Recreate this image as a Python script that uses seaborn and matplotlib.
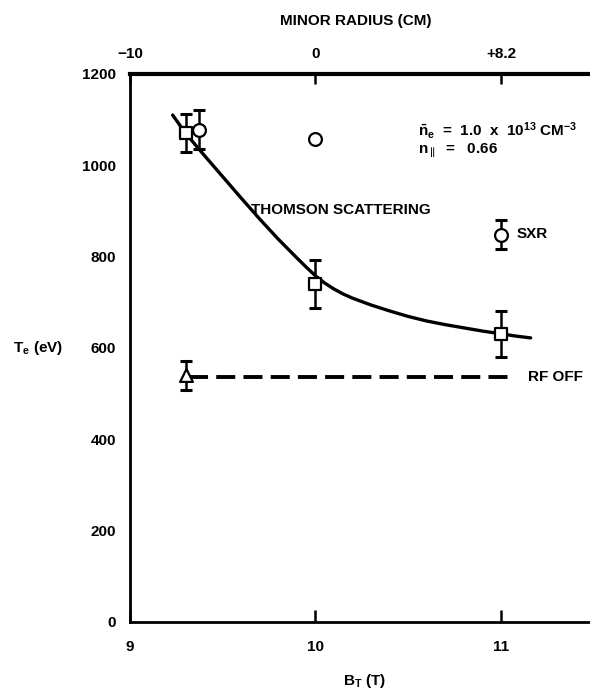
import matplotlib
matplotlib.use("Agg")
import matplotlib.pyplot as plt
import seaborn as sns
import pandas as pd

# Data
ts_bt = [9.30, 10.0, 11.0]
ts_te = [1070, 740, 630]
ts_err = [42, 52, 50]

sxr_bt = [9.37, 11.0]
sxr_te = [1078, 848]
sxr_err = [42, 32]

sxr2_bt = [10.0]
sxr2_te = [1058]

rfoff_bt = [9.30]
rfoff_te = [540]
rfoff_err = [31]

curve_bt = [9.23, 9.30, 9.40, 9.50, 9.60, 9.70, 9.80, 9.90, 9.95, 10.0, 10.05, 10.1, 10.15, 10.2,
            10.3, 10.4, 10.5, 10.6, 10.7, 10.8, 10.9, 11.0, 11.08, 11.16]
curve_te = [1110, 1070, 1022, 975, 928, 882, 838, 797, 777, 758, 742, 729, 718, 709,
            694, 681, 669, 659, 651, 644, 637, 631, 626, 622]

rfline_bt = [9.32, 11.07]
rfline_te = [537, 537]

top_ticks = [9, 10, 11]
top_labels = ["\u221210", "0", "+8.2"]
y_ticks = [0, 200, 400, 600, 800, 1000, 1200]
x_ticks = [9, 10, 11]

sns.set_theme(style="white")
plt.rcParams['font.family'] = ['Liberation Sans', 'DejaVu Sans']
plt.rcParams['font.weight'] = 'bold'
plt.rcParams['text.color'] = 'black'
plt.rcParams['axes.labelcolor'] = 'black'
plt.rcParams['xtick.color'] = 'black'
plt.rcParams['ytick.color'] = 'black'
plt.rcParams['mathtext.fontset'] = 'custom'
plt.rcParams['mathtext.rm'] = 'Liberation Sans:bold'
plt.rcParams['mathtext.bf'] = 'Liberation Sans:bold'
plt.rcParams['mathtext.it'] = 'Liberation Sans:bold'
plt.rcParams['mathtext.sf'] = 'Liberation Sans:bold'
plt.rcParams['mathtext.default'] = 'bf'

FS = 11

fig = plt.figure(figsize=(5.9, 6.93), dpi=100)
ax = fig.add_axes([0.2203, 0.1025, 0.7797, 0.7908])

curve = pd.DataFrame({"bt": curve_bt, "te": curve_te})
sns.lineplot(data=curve, x="bt", y="te", ax=ax, color="black", lw=2.4, sort=False)

rfl = pd.DataFrame({"bt": rfline_bt, "te": rfline_te})
sns.lineplot(data=rfl, x="bt", y="te", ax=ax, color="black", lw=2.8,
             linestyle=(0, (4.9, 2.1)))

ek = dict(fmt="none", ecolor="black", elinewidth=1.8, capsize=4, capthick=2.2, zorder=3)
ax.errorbar(ts_bt, ts_te, yerr=ts_err, **ek)
ax.errorbar(sxr_bt, sxr_te, yerr=sxr_err, **ek)
ax.errorbar(rfoff_bt, rfoff_te, yerr=rfoff_err, **ek)

mk = dict(color="white", edgecolor="black", linewidth=1.6, s=85, zorder=4, legend=False)
sns.scatterplot(x=ts_bt, y=ts_te, marker="s", ax=ax, **mk)
sns.scatterplot(x=sxr_bt + sxr2_bt, y=sxr_te + sxr2_te, marker="o", ax=ax, **mk)
sns.scatterplot(x=rfoff_bt, y=rfoff_te, marker="^", ax=ax, **mk)

ax.set_xlim(9, 11.48)
ax.set_ylim(0, 1200)
ax.set_xticks(x_ticks)
ax.set_xticklabels([str(t) for t in x_ticks])
ax.set_yticks(y_ticks)
ax.set_yticklabels([str(t) for t in y_ticks])
ax.tick_params(axis="y", direction="in", length=10, width=1.8, labelsize=FS, pad=10)
ax.tick_params(axis="x", direction="in", length=9, width=1.8, labelsize=FS, pad=13)

for s in ["left", "bottom"]:
    ax.spines[s].set_color("black")
    ax.spines[s].set_linewidth(2)
ax.spines["top"].set_color("black")
ax.spines["top"].set_linewidth(3)
ax.spines["right"].set_visible(False)

ax.set_xlabel("B$_\\mathbf{T}$ (T)", fontsize=FS, fontweight="bold", va="center")
ax.xaxis.set_label_coords(0.509, -0.108)
ax.set_ylabel("T$_\\mathbf{e}$ (eV)", fontsize=FS, fontweight="bold", rotation=0,
              va="center", ha="center")
ax.yaxis.set_label_coords(-0.2, 0.50)

top = ax.twiny()
top.set_xlim(ax.get_xlim())
top.set_xticks(top_ticks)
top.set_xticklabels(top_labels)
top.tick_params(axis="x", direction="in", length=7, width=1.8, labelsize=FS, pad=9)
for s in top.spines.values():
    s.set_visible(False)
top.set_xlabel("MINOR RADIUS (CM)", fontsize=FS, fontweight="bold", va="center")
top.xaxis.set_label_coords(0.49, 1.097)

ax.text(9.655, 902, "THOMSON SCATTERING", fontsize=FS, fontweight="bold", va="center")
ax.text(11.085, 850, "SXR", fontsize=FS, fontweight="bold", va="center")
ax.text(11.145, 537, "RF OFF", fontsize=FS, fontweight="bold", va="center")
ax.text(10.553, 1077, "$\\bar{\\mathbf{n}}_\\mathbf{e}$  =  1.0  x  10$^{\\mathbf{13}}$ CM$^{\\mathbf{-3}}$",
        fontsize=FS, fontweight="bold", va="center")
ax.text(10.553, 1031, "n$_{\\mathbf{\\parallel}}$  =   0.66", fontsize=FS, fontweight="bold", va="center")

fig.savefig("out.png", dpi=100)
